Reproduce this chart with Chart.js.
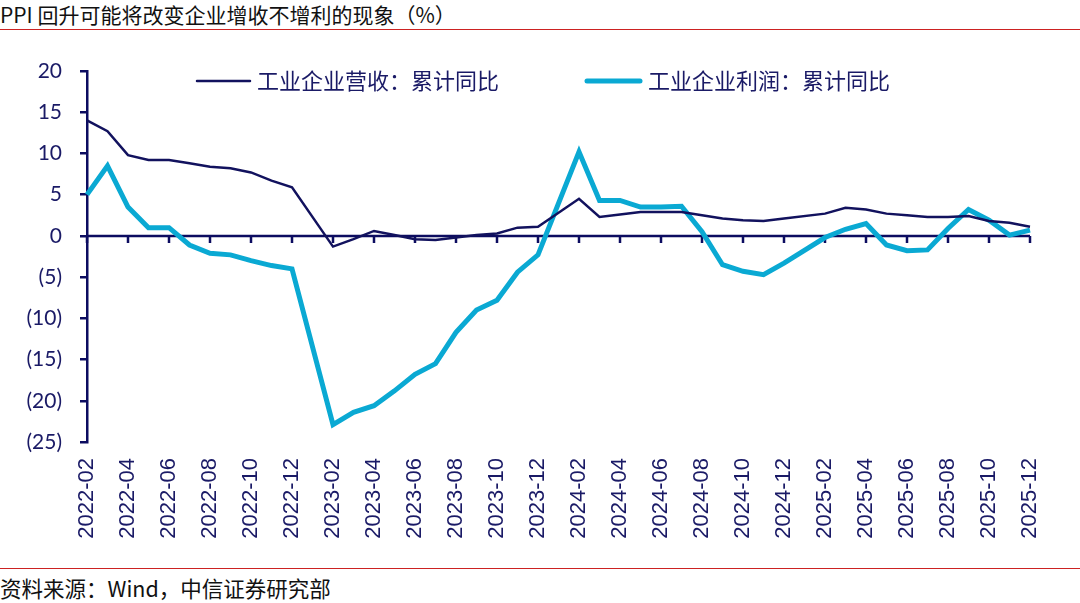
<!DOCTYPE html>
<html>
<head>
    <title>PPI 回升可能将改变企业增收不增利的现象</title>
    <meta charset="utf-8">
    <style>
        body {
            margin: 0;
            width: 1080px;
            height: 603px;
            overflow: hidden;
            background: #fff;
            font-family: "Noto Sans CJK SC", sans-serif;
        }
        .title {
            height: 29px;
            line-height: 28px;
            font-size: 21px;
            color: #111;
            border-bottom: 1px solid #cc2222;
            white-space: nowrap;
        }
        .chartBox {
            position: relative;
            width: 1080px;
            height: 538px;
        }
        .source {
            border-top: 1px solid #cc2222;
            height: 34px;
            line-height: 38px;
            font-size: 21.5px;
            color: #111;
            white-space: nowrap;
        }
    </style>
    <script src="https://cdn.jsdelivr.net/npm/chart.js"></script>
</head>
<body>
    <div class="title">PPI 回升可能将改变企业增收不增利的现象（%）</div>
    <div class="chartBox"><canvas id="graph"></canvas></div>
    <div class="source">资料来源：Wind，中信证券研究部</div>

    <script>
        // monthly, Jan is not published (Jan-Feb combined), so those are null
        const months = [
            '2022-02', '2022-03', '2022-04', '2022-05', '2022-06', '2022-07', '2022-08', '2022-09', '2022-10', '2022-11', '2022-12',
            '2023-01', '2023-02', '2023-03', '2023-04', '2023-05', '2023-06', '2023-07', '2023-08', '2023-09', '2023-10', '2023-11', '2023-12',
            '2024-01', '2024-02', '2024-03', '2024-04', '2024-05', '2024-06', '2024-07', '2024-08', '2024-09', '2024-10', '2024-11', '2024-12',
            '2025-01', '2025-02', '2025-03', '2025-04', '2025-05', '2025-06', '2025-07', '2025-08', '2025-09', '2025-10', '2025-11', '2025-12'
        ];
        const revenue = [
            14.0, 12.7, 9.8, 9.2, 9.2, 8.8, 8.4, 8.2, 7.7, 6.7, 5.9,
            null, -1.3, -0.4, 0.6, 0.1, -0.4, -0.5, -0.2, 0.1, 0.3, 1.0, 1.1,
            null, 4.5, 2.3, 2.6, 2.9, 2.9, 2.9, 2.5, 2.1, 1.9, 1.8, 2.1,
            null, 2.7, 3.4, 3.2, 2.7, 2.5, 2.3, 2.3, 2.4, 1.8, 1.6, 1.1
        ];
        const profit = [
            5.0, 8.5, 3.5, 1.0, 1.0, -1.1, -2.1, -2.3, -3.0, -3.6, -4.0,
            null, -22.9, -21.4, -20.6, -18.8, -16.8, -15.5, -11.7, -9.0, -7.8, -4.4, -2.3,
            null, 10.2, 4.3, 4.3, 3.5, 3.5, 3.6, 0.5, -3.5, -4.3, -4.7, -3.3,
            null, -0.2, 0.8, 1.5, -1.1, -1.8, -1.7, 0.9, 3.2, 1.9, 0.1, 0.7
        ];
        const yTicks = [20, 15, 10, 5, 0, -5, -10, -15, -20, -25];

        const NAVY = '#12125e';
        const AXIS = '#0c0c60';
        const CYAN = '#0aa9d3';
        const TEXT = '#1a1a66';

        // x axis sits on the zero line, with a tick every two months
        const zeroAxis = {
            id: 'zeroAxis',
            beforeDatasetsDraw(chart) {
                const ctx = chart.ctx;
                const a = chart.chartArea;
                const x = chart.scales.x, y = chart.scales.y;
                const y0 = y.getPixelForValue(0);
                ctx.save();
                ctx.strokeStyle = AXIS;
                ctx.lineWidth = 2.5;
                ctx.beginPath();
                ctx.moveTo(a.left, y0);
                ctx.lineTo(a.right, y0);
                for (let i = 0; i < months.length; i += 2) {
                    const px = x.getPixelForValue(i);
                    ctx.moveTo(px, y0);
                    ctx.lineTo(px, y0 + 7);
                }
                ctx.stroke();
                ctx.restore();
            }
        };

        // legend drawn inside the plot, like the original
        const innerLegend = {
            id: 'innerLegend',
            afterDraw(chart) {
                const ctx = chart.ctx;
                const spots = [{ x: 197, text: 257 }, { x: 587, text: 648 }];
                const ly = 51;
                ctx.save();
                ctx.font = '22px "Noto Sans CJK SC"';
                ctx.textBaseline = 'middle';
                chart.data.datasets.forEach((ds, i) => {
                    const s = spots[i];
                    ctx.strokeStyle = ds.borderColor;
                    ctx.lineWidth = ds.borderWidth;
                    ctx.lineCap = 'round';
                    ctx.beginPath();
                    ctx.moveTo(s.x, ly);
                    ctx.lineTo(s.x + 53, ly);
                    ctx.stroke();
                    ctx.fillStyle = TEXT;
                    ctx.fillText(ds.label, s.text, ly);
                });
                ctx.restore();
            }
        };

        const ctx = document.getElementById('graph').getContext('2d');
        const myChart = new Chart(ctx, {
            type: 'line',
            data: {
                labels: months,
                datasets: [{
                    label: '工业企业营收：累计同比',
                    data: revenue,
                    borderColor: NAVY,
                    backgroundColor: NAVY,
                    borderWidth: 2.5,
                    pointRadius: 0,
                    spanGaps: true,
                    tension: 0
                }, {
                    label: '工业企业利润：累计同比',
                    data: profit,
                    borderColor: CYAN,
                    backgroundColor: CYAN,
                    borderWidth: 5,
                    pointRadius: 0,
                    spanGaps: true,
                    tension: 0
                }]
            },
            options: {
                responsive: true,
                maintainAspectRatio: false,
                animation: false,
                layout: { padding: { top: 41, right: 50, left: 0, bottom: 0 } },
                plugins: {
                    legend: { display: false },
                    tooltip: { enabled: false }
                },
                scales: {
                    x: {
                        grid: { display: false, drawTicks: false },
                        border: { display: false },
                        afterFit(scale) { scale.height = 126; },
                        ticks: {
                            autoSkip: false,
                            maxRotation: 90,
                            minRotation: 90,
                            padding: 16,
                            color: TEXT,
                            font: { family: '"Liberation Sans", Arial', size: 22 },
                            callback: function (val, index) {
                                return index % 2 === 0 ? months[index] : null;
                            }
                        }
                    },
                    y: {
                        min: -25,
                        max: 20,
                        afterFit(scale) { scale.width = 87; },
                        afterBuildTicks(scale) {
                            scale.ticks = yTicks.map(v => ({ value: v }));
                        },
                        border: { display: true, color: AXIS, width: 2.5 },
                        grid: {
                            drawOnChartArea: false,
                            color: AXIS,
                            lineWidth: 2.5,
                            tickLength: 7
                        },
                        ticks: {
                            padding: 18,
                            color: TEXT,
                            font: { family: 'Lato', size: 21 },
                            callback: function (v) {
                                return v < 0 ? '(' + Math.abs(v) + ')' : String(v);
                            }
                        }
                    }
                }
            },
            plugins: [zeroAxis, innerLegend]
        });
    </script>
</body>
</html>
